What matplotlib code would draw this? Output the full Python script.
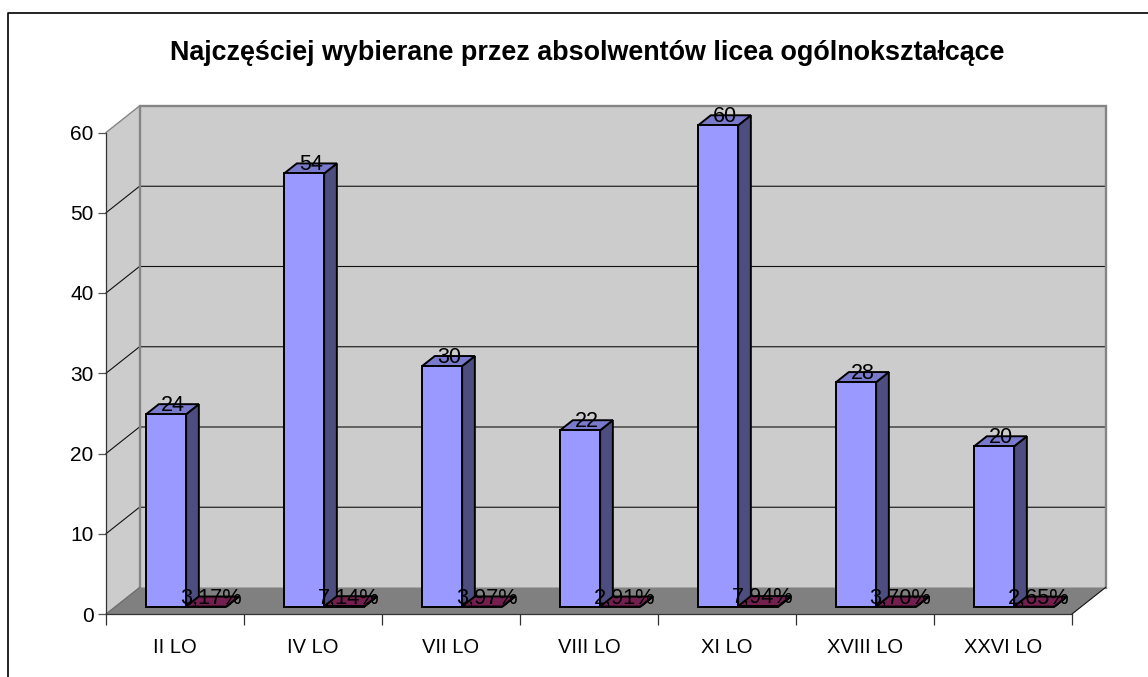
import matplotlib
matplotlib.use('Agg')
import matplotlib.pyplot as plt
from matplotlib.patches import Polygon

plt.rcParams['font.family'] = ['Liberation Sans', 'DejaVu Sans']

# Data
categories = ['II LO', 'IV LO', 'VII LO', 'VIII LO', 'XI LO', 'XVIII LO', 'XXVI LO']
counts = [24, 54, 30, 22, 60, 28, 20]
shares = [0.0317, 0.0714, 0.0397, 0.0291, 0.0794, 0.0370, 0.0265]
share_labels = ['3,17%', '7,14%', '3,97%', '2,91%', '7,94%', '3,70%', '2,65%']
y_ticks = [0, 10, 20, 30, 40, 50, 60]
title = 'Najczęściej wybierane przez absolwentów licea ogólnokształcące'

W, H = 1148, 677
fig = plt.figure(figsize=(W / 100, H / 100), dpi=100, facecolor='white')

# the axes is the front plane of the fake 3D box
ax = fig.add_axes([106 / W, 1 - 614 / H, 966 / W, 481.5 / H])
ax.set_xlim(0, len(categories))
ax.set_ylim(0, 60)
ax.patch.set_visible(False)

# depth of the box, in data units
DX = 33.5 * len(categories) / 966
DY = 26.5 * 60 / 481.5


def proj(x, v, d):
    return (x + d * DX, v + d * DY)


def quad(points, color, edge='none', lw=0.0, z=1):
    ax.add_patch(Polygon([proj(*p) for p in points], closed=True, facecolor=color,
                         edgecolor=edge, linewidth=lw, zorder=z, clip_on=False,
                         joinstyle='miter'))


n = len(categories)
quad([(0, 0, 0), (0, 60, 0), (0, 60, 1), (0, 0, 1)], '#cccccc')
quad([(0, 0, 1), (0, 60, 1), (n, 60, 1), (n, 0, 1)], '#cccccc')
quad([(0, 0, 0), (n, 0, 0), (n, 0, 1), (0, 0, 1)], '#808080')

# grid on both walls
for v in y_ticks[1:-1]:
    ax.plot(*zip(proj(0, v, 0), proj(0, v, 1), proj(n, v, 1)), color='#111111', lw=0.8,
            zorder=2, clip_on=False)
# wall outline
ax.plot(*zip(proj(0, 0, 1), proj(0, 60, 1), proj(n, 60, 1), proj(n, 0, 1)), color='#858585',
        lw=1.7, zorder=2, clip_on=False, solid_joinstyle='miter')
ax.plot(*zip(proj(0, 60, 0), proj(0, 60, 1)), color='#858585', lw=1.0, zorder=2, clip_on=False)
ax.plot(*zip(proj(n, 0, 0), proj(n, 0, 1)), color='#111111', lw=0.8, zorder=2, clip_on=False)
ax.plot(*zip(proj(0, 0, 0), proj(0, 0, 1)), color='#666666', lw=0.8, zorder=2, clip_on=False)

# bars
gap = 0.225
bar_w = 0.29
d0, d1 = 0.27, 0.65


def bar3d(x, v, front, top, side, z):
    kw = dict(edge='black', lw=1.4, z=z)
    quad([(x + bar_w, 0, d0), (x + bar_w, 0, d1), (x + bar_w, v, d1), (x + bar_w, v, d0)], side, **kw)
    quad([(x, v, d0), (x + bar_w, v, d0), (x + bar_w, v, d1), (x, v, d1)], top, **kw)
    quad([(x, 0, d0), (x + bar_w, 0, d0), (x + bar_w, v, d0), (x, v, d0)], front, **kw)


for i in range(n):
    x1 = i + gap
    x2 = x1 + bar_w
    bar3d(x1, counts[i], '#9999ff', '#7a7acc', '#4d4d80', 3 + i)
    bar3d(x2, shares[i], '#993366', '#732050', '#4d1a33', 3 + i)

# data labels sit on the back edge of each bar top
for i in range(n):
    x1 = i + gap
    x2 = x1 + bar_w
    px, py = proj(x1 + bar_w / 2, counts[i], 0.48)
    ax.text(px, py + 0.4, str(counts[i]), ha='center', va='center', fontsize=15.5, color='black', zorder=20)
    px, py = proj(x2 + bar_w / 2, shares[i], 0.4)
    ax.text(px, py + 0.6, share_labels[i], ha='center', va='center', fontsize=15.7, color='black', zorder=20)

# axes
for s in ['top', 'right']:
    ax.spines[s].set_visible(False)
for s in ['left', 'bottom']:
    ax.spines[s].set_color('#333333')
    ax.spines[s].set_linewidth(0.9)
    ax.spines[s].set_zorder(2.5)
ax.set_yticks(y_ticks)
ax.tick_params(axis='y', length=6, width=0.9, color='#555555', labelsize=15, pad=3)
ax.set_xticks(range(n + 1))
ax.set_xticklabels([])
ax.set_xticks([i + 0.5 for i in range(n)], minor=True)
ax.set_xticklabels(categories, minor=True, fontsize=14.5)
ax.tick_params(axis='x', which='major', length=8, width=0.9, color='#333333')
ax.tick_params(axis='x', which='minor', length=0, pad=17)

# chart frame: only top and left edges show in the crop
fig.add_artist(plt.Line2D([7.5 / W, 7.5 / W, 1], [0, 1 - 13 / H, 1 - 13 / H], color='black',
                          lw=1.2, transform=fig.transFigure))

fig.text(587 / W, 1 - 53 / H, title, ha='center', va='center', fontsize=19.35, fontweight='bold')

fig.savefig('out.png', dpi=100)
